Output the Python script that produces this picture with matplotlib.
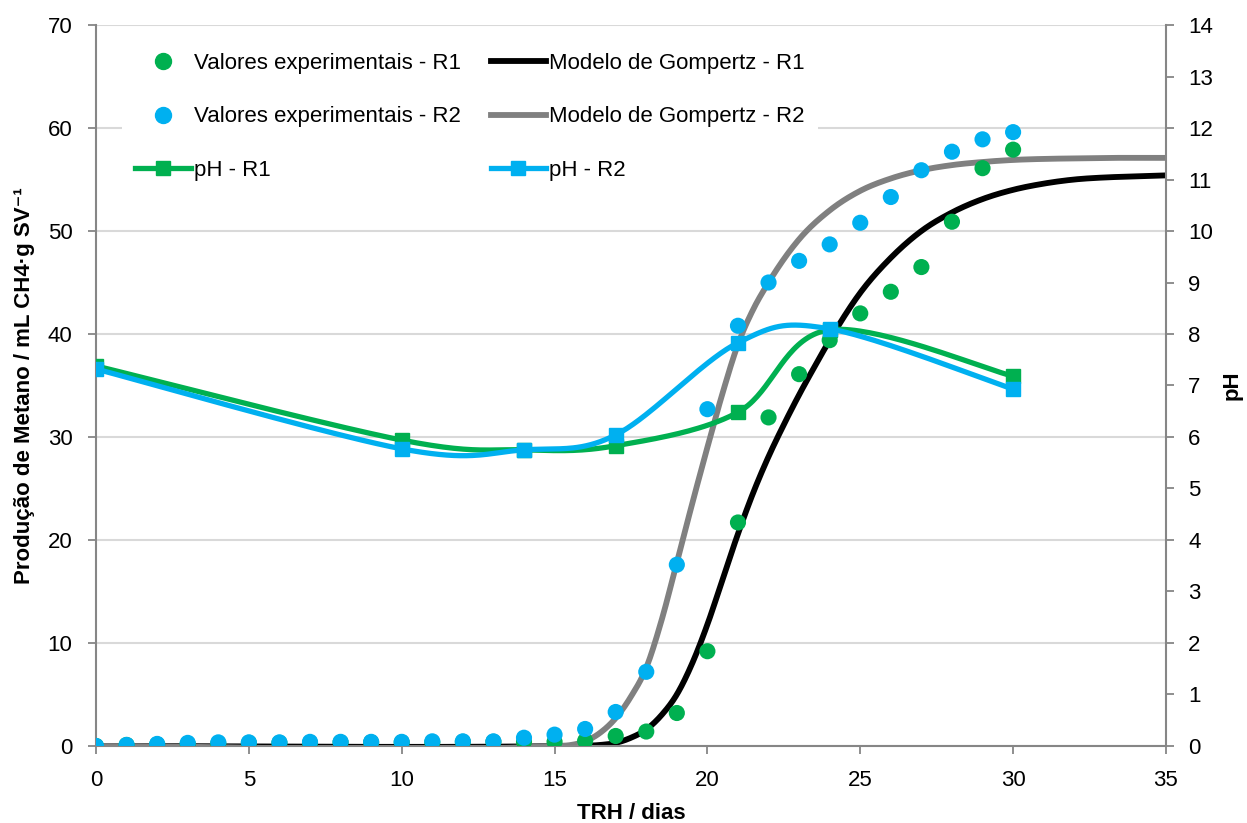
import matplotlib
matplotlib.use("Agg")
import matplotlib.pyplot as plt
import numpy as np
from matplotlib.lines import Line2D

plt.rcParams["font.family"] = ["Liberation Sans", "DejaVu Sans"]

# Produção acumulada de metano (mL CH4/g SV), um ponto por dia
dias = list(range(0, 31))
metano_r1 = [0.0, 0.1, 0.15, 0.2, 0.25, 0.3, 0.3, 0.3, 0.35, 0.35, 0.35, 0.35, 0.4, 0.4, 0.4,
             0.4, 0.5, 0.97, 1.4, 3.2, 9.2, 21.7, 31.9, 36.1, 39.4, 42.0, 44.1, 46.5, 50.9,
             56.1, 57.9]
metano_r2 = [0.0, 0.1, 0.2, 0.3, 0.35, 0.35, 0.35, 0.4, 0.4, 0.4, 0.4, 0.45, 0.45, 0.45, 0.8,
             1.1, 1.65, 3.3, 7.2, 17.6, 32.7, 40.8, 45.0, 47.1, 48.7, 50.8, 53.3, 55.9, 57.7,
             58.9, 59.6]

# Curvas do modelo de Gompertz ajustado
dias_gomp_r1 = [0, 15.5, 16, 16.5, 17, 17.5, 18, 18.5, 19, 19.5, 20, 20.5, 21, 21.5, 22, 22.5,
                23, 23.5, 24, 25, 26, 27, 28, 29, 30, 31, 32, 33, 34, 35]
gomp_r1 = [0.0, 0.0, 0.02, 0.1, 0.3, 0.8, 1.6, 3.0, 5.0, 8.0, 11.8, 16.2, 20.6, 24.6, 28.1, 31.2,
           34.1, 36.8, 39.4, 44.0, 47.4, 50.0, 51.8, 53.1, 54.0, 54.6, 55.0, 55.2, 55.3, 55.4]
dias_gomp_r2 = [0, 15, 15.5, 16, 16.5, 17, 17.5, 18, 18.5, 19, 19.5, 20, 20.5, 21, 21.5, 22,
                23, 24, 25, 26, 27, 28, 29, 30, 31, 32, 33, 34, 35]
gomp_r2 = [0.0, 0.0, 0.08, 0.45, 1.3, 2.7, 4.8, 7.6, 12.2, 17.8, 23.5, 29.0, 34.3, 39.0, 42.4,
           45.0, 49.2, 52.0, 53.9, 55.1, 55.9, 56.4, 56.7, 56.9, 57.0, 57.05, 57.1, 57.1, 57.1]

# pH medido
dias_ph = [0, 10, 14, 17, 21, 24, 30]
ph_r1 = [7.38, 5.94, 5.75, 5.83, 6.48, 8.08, 7.18]
ph_r2 = [7.32, 5.77, 5.75, 6.04, 7.83, 8.10, 6.93]

VERDE = "#00B050"
AZUL = "#00B0F0"
CINZA = "#808080"
EIXO = "#868686"
GRADE = "#D9D9D9"


def suavizar_bezier(x, y, n=40):
    # linha suavizada estilo Excel (Bezier com tangentes de Catmull-Rom)
    p = np.column_stack([x, y]).astype(float)
    pts = np.vstack([p[0], p, p[-1]])
    out = []
    t = np.linspace(0, 1, n)[:, None]
    for i in range(1, len(pts) - 2):
        p0, p3 = pts[i], pts[i + 1]
        p1 = p0 + (pts[i + 1] - pts[i - 1]) / 6
        p2 = p3 - (pts[i + 2] - pts[i]) / 6
        seg = ((1 - t) ** 3) * p0 + 3 * ((1 - t) ** 2) * t * p1 + 3 * (1 - t) * t ** 2 * p2 + t ** 3 * p3
        out.append(seg)
    out = np.vstack(out)
    return out[:, 0], out[:, 1]


def suavizar_hermite(x, y, n=30):
    x = np.asarray(x, float)
    y = np.asarray(y, float)
    m = np.gradient(y, x)
    xs, ys = [], []
    for i in range(len(x) - 1):
        h = x[i + 1] - x[i]
        t = np.linspace(0, 1, n)
        h00 = 2 * t ** 3 - 3 * t ** 2 + 1
        h10 = t ** 3 - 2 * t ** 2 + t
        h01 = -2 * t ** 3 + 3 * t ** 2
        h11 = t ** 3 - t ** 2
        xs.append(x[i] + t * h)
        ys.append(h00 * y[i] + h10 * h * m[i] + h01 * y[i + 1] + h11 * h * m[i + 1])
    return np.concatenate(xs), np.concatenate(ys)


fig = plt.figure(figsize=(12.47, 8.23), dpi=100)
ax1 = fig.add_axes([0.077, 0.0936, 0.858, 0.876])
ax2 = ax1.twinx()

# curvas do modelo
gx1, gy1 = suavizar_hermite(dias_gomp_r1, gomp_r1)
gx2, gy2 = suavizar_hermite(dias_gomp_r2, gomp_r2)
ax1.plot(gx1, gy1, color="black", lw=4.2, solid_capstyle="butt", zorder=2)
ax1.plot(gx2, gy2, color=CINZA, lw=4.2, solid_capstyle="butt", zorder=2.1)

# valores experimentais
ax1.scatter(dias, metano_r1, s=135, color=VERDE, edgecolors="none", zorder=3)
ax1.scatter(dias, metano_r2, s=135, color=AZUL, edgecolors="none", zorder=3.1)

# pH no eixo secundário
px1, py1 = suavizar_bezier(dias_ph, ph_r1)
px2, py2 = suavizar_bezier(dias_ph, ph_r2)
ax2.plot(px1, py1, color=VERDE, lw=3.8, solid_capstyle="round", zorder=2)
ax2.plot(dias_ph, ph_r1, ls="none", marker="s", ms=10.5, color=VERDE, zorder=2.1)
ax2.plot(px2, py2, color=AZUL, lw=3.8, solid_capstyle="round", zorder=2.2)
ax2.plot(dias_ph, ph_r2, ls="none", marker="s", ms=10.5, color=AZUL, zorder=2.3)

ax1.set_xlim(0, 35)
ax1.set_ylim(0, 70)
ax2.set_ylim(0, 14)
ax1.set_xticks(range(0, 36, 5))
ax1.set_yticks(range(0, 71, 10))
ax2.set_yticks(range(0, 15))

ax1.set_axisbelow(True)
ax1.grid(axis="y", color=GRADE, lw=1.5)
ax1.grid(axis="x", visible=False)

for nome in ["top", "right"]:
    ax1.spines[nome].set_visible(False)
for nome in ["top", "left", "bottom"]:
    ax2.spines[nome].set_visible(False)
ax1.spines["left"].set_color(EIXO)
ax1.spines["bottom"].set_color(EIXO)
ax2.spines["right"].set_color(EIXO)
for sp in [ax1.spines["left"], ax1.spines["bottom"], ax2.spines["right"]]:
    sp.set_linewidth(1.5)

ax1.tick_params(axis="both", direction="out", length=6, width=1.3, color=EIXO,
                labelsize=16, pad=11)
ax2.tick_params(axis="y", direction="out", length=6, width=1.3, color=EIXO,
                labelsize=16, pad=10)

ax1.set_xlabel("TRH / dias", fontsize=16, fontweight="bold", labelpad=9)
ax1.set_ylabel("Produção de Metano / mL CH4·g SV⁻¹", fontsize=16, fontweight="bold",
               labelpad=9)
ax2.set_ylabel("pH", fontsize=16, fontweight="bold", labelpad=6)

handles = [
    Line2D([], [], ls="none", marker="o", ms=11.5, color=VERDE),
    Line2D([], [], ls="none", marker="o", ms=11.5, color=AZUL),
    Line2D([], [], color=VERDE, lw=3.8, marker="s", ms=10.5),
    Line2D([], [], color="black", lw=4.2),
    Line2D([], [], color=CINZA, lw=4.2),
    Line2D([], [], color=AZUL, lw=3.8, marker="s", ms=10.5),
]
labels = [
    "Valores experimentais - R1",
    "Valores experimentais - R2",
    "pH - R1",
    "Modelo de Gompertz - R1",
    "Modelo de Gompertz - R2",
    "pH - R2",
]
leg = ax2.legend(handles, labels, ncol=2, loc="upper left", bbox_to_anchor=(0.014, 0.995),
                 fontsize=16, frameon=True, facecolor="white", edgecolor="none",
                 framealpha=1, fancybox=False, handlelength=2.5, handletextpad=0.12,
                 columnspacing=1.35, labelspacing=1.45, borderpad=0.6)

fig.savefig("out.png", dpi=100)
